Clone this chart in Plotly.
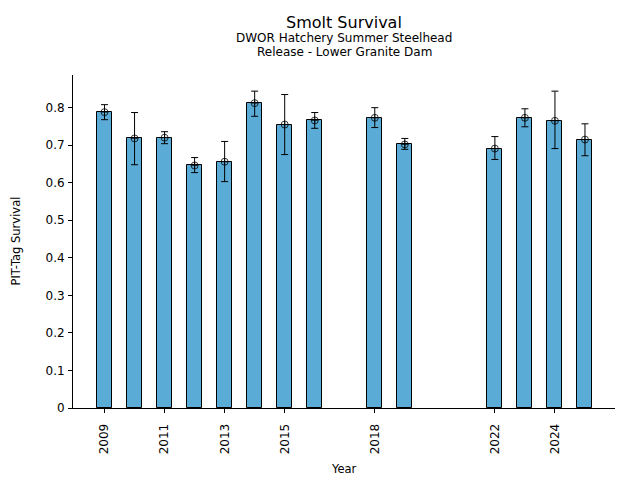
import plotly.graph_objects as go

years = [2009, 2010, 2011, 2012, 2013, 2014, 2015, 2016, 2018, 2019, 2022, 2023, 2024, 2025]
survival = [0.788, 0.718, 0.720, 0.646, 0.656, 0.812, 0.755, 0.766, 0.773, 0.702, 0.691, 0.773, 0.765, 0.715]
upper = [0.808, 0.787, 0.736, 0.667, 0.710, 0.844, 0.835, 0.787, 0.800, 0.718, 0.723, 0.797, 0.844, 0.757]
lower = [0.768, 0.648, 0.704, 0.627, 0.603, 0.777, 0.675, 0.745, 0.747, 0.689, 0.662, 0.749, 0.691, 0.672]
tick_years = [2009, 2011, 2013, 2015, 2018, 2022, 2024]
y_ticks = [0, 0.1, 0.2, 0.3, 0.4, 0.5, 0.6, 0.7, 0.8]

err_plus = [u - s for u, s in zip(upper, survival)]
err_minus = [s - l for s, l in zip(survival, lower)]

FONT = "DejaVu Sans"

fig = go.Figure()
fig.add_trace(go.Bar(
    x=years, y=survival, width=0.5,
    marker=dict(color="#5aabd6", line=dict(color="black", width=1)),
    showlegend=False, hoverinfo="skip",
))
fig.add_trace(go.Scatter(
    x=years, y=survival, mode="markers",
    marker=dict(symbol="circle-cross-open", size=7, color="rgba(0,0,0,0.75)",
                line=dict(width=1, color="rgba(0,0,0,0.75)")),
    error_y=dict(type="data", symmetric=False, array=err_plus, arrayminus=err_minus,
                 color="black", thickness=1, width=3.5),
    showlegend=False,
))

fig.update_layout(
    width=640, height=480,
    margin=dict(l=73, r=25, t=75, b=72, autoexpand=False),
    plot_bgcolor="white", paper_bgcolor="white",
    font=dict(family=FONT, color="black", size=12),
    bargap=0,
    annotations=[
        dict(text="Smolt Survival", x=0.5, y=1, xref="paper", yref="paper",
             yshift=53, showarrow=False, yanchor="middle", font=dict(size=16, family=FONT)),
        dict(text="DWOR Hatchery Summer Steelhead",
             x=0.5, y=1, xref="paper", yref="paper", yshift=37, showarrow=False,
             yanchor="middle", font=dict(size=12, family=FONT)),
        dict(text="Release - Lower Granite Dam",
             x=0.5, y=1, xref="paper", yref="paper", yshift=23, showarrow=False,
             yanchor="middle", font=dict(size=12, family=FONT)),
        dict(text="Year", x=0.5, y=0, xref="paper", yref="paper", yshift=-61,
             showarrow=False, yanchor="middle", font=dict(size=11.5, family=FONT)),
        dict(text="PIT-Tag Survival", x=0, y=0.5, xref="paper", yref="paper", xshift=-58,
             showarrow=False, xanchor="center", yanchor="middle", textangle=-90,
             font=dict(size=11.5, family=FONT)),
    ],
)
fig.update_xaxes(
    range=[2007.95, 2026.0], tickmode="array", tickvals=tick_years,
    ticktext=[str(t) for t in tick_years], tickangle=-90,
    ticks="outside", ticklen=4, tickcolor="black", ticklabelstandoff=6,
    showline=True, linecolor="black", linewidth=1, showgrid=False, zeroline=False,
    automargin=False, tickfont=dict(size=12),
)
fig.update_yaxes(
    range=[0, 0.887], tickmode="array", tickvals=y_ticks,
    ticktext=["0"] + [f"{v:.1f}" for v in y_ticks[1:]],
    ticks="outside", ticklen=4, tickcolor="black", ticklabelstandoff=1,
    showline=True, linecolor="black", linewidth=1, showgrid=False, zeroline=False,
    automargin=False, tickfont=dict(size=12),
)

fig.write_html("out.html", config={"displayModeBar": False},
               post_script="document.body.style.margin='0';")
